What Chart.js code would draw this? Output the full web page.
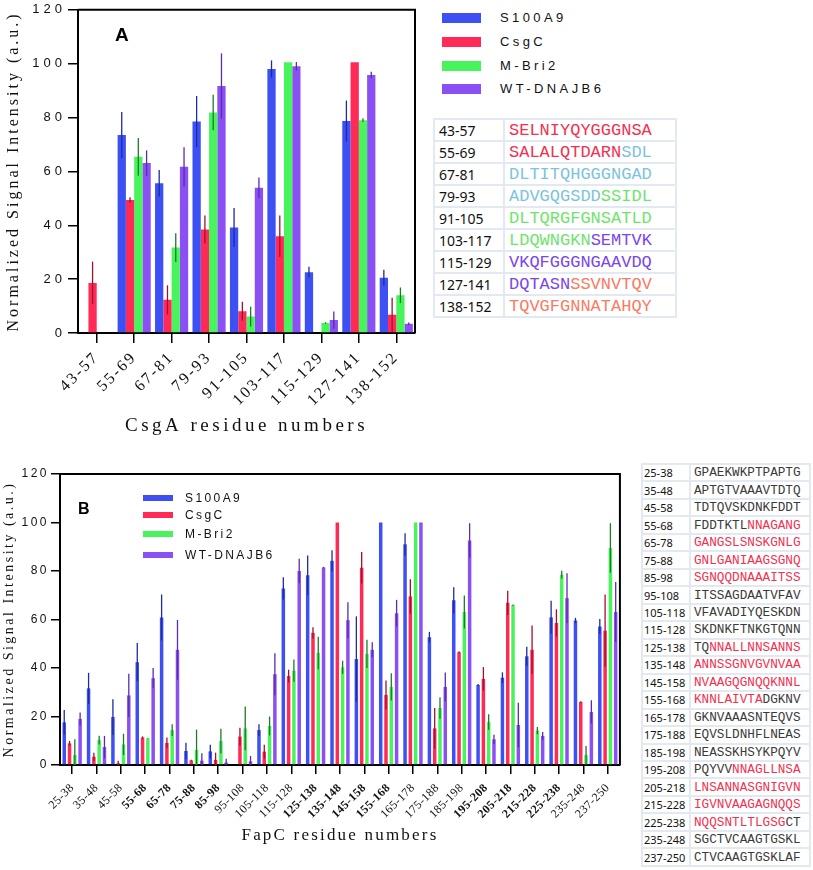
<!DOCTYPE html>
<html>
<head>
<meta charset="utf-8">
<script src="https://cdn.jsdelivr.net/npm/chart.js@4/dist/chart.umd.min.js"></script>
<style>
  body { margin: 0; background: #fff; }
  #page { position: relative; width: 813px; height: 870px; overflow: hidden; }
  canvas { position: absolute; }
  .panel-tag { position: absolute; font: bold 19px "Liberation Sans", Arial, sans-serif; line-height: 19px; color: #000; }
  .legend { position: absolute; font-family: "Liberation Sans", Arial, sans-serif; color: #111; }
  .legend .row { position: absolute; left: 0; white-space: nowrap; }
  .legend .sw { position: absolute; left: 0; }
  .legend .lbl { position: absolute; }
  .seq { position: absolute; border-collapse: collapse; table-layout: fixed; }
  .seq td { border: 2px solid #e2e9f0; padding: 0; white-space: nowrap; overflow: hidden; }
  .seq td.k { font-family: "Noto Sans", sans-serif; color: #111; }
  .seq td.s { font-family: "Liberation Mono", "Courier New", monospace; }
</style>
</head>
<body>
<div id="page">
  <canvas id="chart-a" width="420" height="445" style="left:0;top:0"></canvas>
  <canvas id="chart-b" width="625" height="430" style="left:0;top:440px"></canvas>
  <div class="panel-tag" style="left:115px;top:25px">A</div>
  <div class="panel-tag" style="left:78px;top:501px;font-size:16px;line-height:16px">B</div>
  <div id="legend-a" class="legend" style="left:442px;top:0"></div>
  <div id="legend-b" class="legend" style="left:143px;top:0"></div>
  <table id="table-a" class="seq" style="left:433px;top:118px;width:244px;height:200px"></table>
  <table id="table-b" class="seq" style="left:641px;top:463px;width:170px;height:404px"></table>
</div>
<script>
// Series
const seriesNames = ['S100A9', 'CsgC', 'M-Bri2', 'WT-DNAJB6'];
const seriesColors = ['#3d50f4', '#ff2a55', '#48f45c', '#8b50f3'];
const errorColors = ['#1d2ba0', '#a3102e', '#1f7a2a', '#5a2bb0'];

// Panel A: CsgA peptides
const labelsA = ['43-57', '55-69', '67-81', '79-93', '91-105', '103-117', '115-129', '127-141', '138-152'];
const s100a9A = [0, 73.5, 55.6, 78.5, 39.2, 98.0, 22.6, 78.7, 20.5];
const csgcA = [18.6, 49.4, 12.3, 38.4, 8.1, 35.9, 0, 100.5, 6.8];
const mbri2A = [0, 65.4, 31.7, 81.9, 6.1, 100.5, 3.7, 79.0, 14.0];
const dnajb6A = [0, 63.1, 61.7, 91.7, 53.9, 99.0, 4.8, 95.8, 3.4];
const s100a9ErrA = [0, 8.6, 4.9, 9.5, 7.2, 3.2, 2.0, 7.6, 3.0];
const csgcErrA = [7.9, 1.0, 5.4, 5.2, 3.5, 7.7, 0, 0, 6.3];
const mbri2ErrA = [0, 7.0, 5.3, 6.6, 3.7, 0, 0.3, 0.7, 2.9];
const dnajb6ErrA = [0, 4.7, 7.3, 12.1, 3.8, 1.6, 3.2, 1.2, 0.5];

// Panel B: FapC peptides
const labelsB = ['25-38', '35-48', '45-58', '55-68', '65-78', '75-88', '85-98', '95-108', '105-118', '115-128',
  '125-138', '135-148', '145-158', '155-168', '165-178', '175-188', '185-198', '195-208', '205-218', '215-228',
  '225-238', '235-248', '237-250'];
const boldLabelsB = ['55-68', '65-78', '75-88', '85-98', '125-138', '135-148', '145-158', '155-168',
  '195-208', '205-218', '215-228', '225-238'];
const s100a9B = [17.6, 31.6, 19.8, 42.4, 60.8, 5.8, 5.6, 0, 14.4, 72.8, 78.2, 84.2, 43.7, 100, 91.0, 52.7, 67.9, 33.0, 36.0, 44.8, 60.9, 59.6, 57.1];
const csgcB = [8.9, 3.4, 0.7, 11.3, 9.1, 1.9, 2.1, 11.7, 5.5, 36.7, 54.5, 100, 81.3, 28.9, 69.5, 15.1, 46.5, 35.5, 66.9, 47.5, 58.6, 26.0, 55.4];
const mbri2B = [4.1, 10.3, 8.5, 11.0, 14.4, 6.2, 9.9, 15.1, 16.1, 38.9, 46.2, 40.3, 45.8, 32.2, 100, 23.5, 63.1, 17.7, 65.9, 14.2, 78.5, 4.1, 89.5];
const dnajb6B = [19.0, 7.4, 28.7, 35.8, 47.5, 1.8, 1.0, 1.5, 37.4, 80.0, 81.4, 59.7, 47.5, 62.6, 100, 32.2, 92.6, 10.6, 16.5, 12.0, 68.8, 21.9, 63.1];
const s100a9ErrB = [5.1, 6.4, 7.3, 7.9, 9.5, 3.4, 2.8, 0, 2.4, 4.6, 8.2, 4.4, 17.6, 0, 4.6, 2.2, 5.4, 0.4, 2.2, 4.0, 6.8, 1.1, 3.1];
const csgcErrB = [1.0, 1.7, 1.1, 0.5, 2.2, 0.3, 3.0, 3.7, 2.8, 2.6, 2.3, 0, 6.5, 5.9, 7.1, 8.4, 0.4, 4.9, 5.0, 10.0, 5.6, 0.3, 14.9];
const mbri2ErrB = [6.5, 1.8, 4.4, 0.1, 2.4, 8.4, 5.1, 9.0, 3.9, 4.6, 6.7, 2.7, 5.8, 5.6, 0, 4.4, 6.8, 3.2, 0.3, 1.5, 1.6, 3.7, 10.2];
const dnajb6ErrB = [2.7, 4.6, 8.9, 4.2, 12.3, 3.0, 1.6, 2.2, 8.7, 5.1, 0.3, 7.4, 3.1, 5.5, 0, 5.9, 7.1, 1.9, 9.2, 1.6, 10.3, 4.8, 12.4];

// Sequence tables: [label, [[text, colourKey], ...]]
const seqRowsA = [
  ['43-57', [['SELNIYQYGGGNSA', 'r']]],
  ['55-69', [['SALALQTDARN', 'r'], ['SDL', 'c']]],
  ['67-81', [['DLTITQHGGGNGAD', 'c']]],
  ['79-93', [['ADVGQGSDD', 'c'], ['SSIDL', 'g']]],
  ['91-105', [['DLTQRGFGNSATLD', 'g']]],
  ['103-117', [['LDQWNGKN', 'g'], ['SEMTVK', 'p']]],
  ['115-129', [['VKQFGGGNGAAVDQ', 'p']]],
  ['127-141', [['DQTASN', 'p'], ['SSVNVTQV', 'o']]],
  ['138-152', [['TQVGFGNNATAHQY', 'o']]],
];
const seqRowsB = [
  ['25-38', [['GPAEKWKPTPAPTG', 'k']]],
  ['35-48', [['APTGTVAAAVTDTQ', 'k']]],
  ['45-58', [['TDTQVSKDNKFDDT', 'k']]],
  ['55-68', [['FDDTKTL', 'k'], ['NNAGANG', 'r']]],
  ['65-78', [['GANGSLSNSKGNLG', 'r']]],
  ['75-88', [['GNLGANIAAGSGNQ', 'r']]],
  ['85-98', [['SGNQQDNAAAITSS', 'r']]],
  ['95-108', [['ITSSAGDAATVFAV', 'k']]],
  ['105-118', [['VFAVADIYQESKDN', 'k']]],
  ['115-128', [['SKDNKFTNKGTQNN', 'k']]],
  ['125-138', [['TQ', 'k'], ['NNALLNNSANNS', 'r']]],
  ['135-148', [['ANNSSGNVGVNVAA', 'r']]],
  ['145-158', [['NVAAGQGNQQKNNL', 'r']]],
  ['155-168', [['KNNLAIVTA', 'r'], ['DGKNV', 'k']]],
  ['165-178', [['GKNVAAASNTEQVS', 'k']]],
  ['175-188', [['EQVSLDNHFLNEAS', 'k']]],
  ['185-198', [['NEASSKHSYKPQYV', 'k']]],
  ['195-208', [['PQYVV', 'k'], ['NNAGLLNSA', 'r']]],
  ['205-218', [['LNSANNASGNIGVN', 'r']]],
  ['215-228', [['IGVNVAAGAGNQQS', 'r']]],
  ['225-238', [['NQQSNTLTLGSG', 'r'], ['CT', 'k']]],
  ['235-248', [['SGCTVCAAGTGSKL', 'k']]],
  ['237-250', [['CTVCAAGTGSKLAF', 'k']]],
];
const seqColors = { r: '#f4304f', c: '#7cc3dc', g: '#6ee46c', p: '#7a45ee', o: '#fa7a64', k: '#3a3a3a' };

// Error bars drawn through the bar centres
const errorBars = {
  id: 'errorBars',
  afterDatasetsDraw(chart) {
    const { ctx } = chart;
    const y = chart.scales.y;
    chart.data.datasets.forEach((ds, i) => {
      chart.getDatasetMeta(i).data.forEach((bar, j) => {
        const v = ds.data[j], e = ds.errors[j];
        if (!v || !e) return;
        ctx.save();
        ctx.strokeStyle = ds.errorColor;
        ctx.lineWidth = 1.3;
        ctx.beginPath();
        ctx.moveTo(bar.x, y.getPixelForValue(v + e));
        ctx.lineTo(bar.x, y.getPixelForValue(Math.max(0, v - e)));
        ctx.stroke();
        ctx.restore();
      });
    });
  }
};

// Top and right edges of the plot box
const plotFrame = {
  id: 'plotFrame',
  afterDraw(chart) {
    const { ctx, chartArea: a } = chart;
    ctx.save();
    ctx.strokeStyle = '#000';
    ctx.lineWidth = 2;
    ctx.beginPath();
    ctx.moveTo(a.left, a.top);
    ctx.lineTo(a.right, a.top);
    ctx.lineTo(a.right, a.bottom);
    ctx.stroke();
    ctx.restore();
  }
};

// Spaced-out lettering on axis labels and titles
const letterSpacing = {
  id: 'letterSpacing',
  afterLayout(chart, args, opts) {
    Object.entries(opts).forEach(([id, gaps]) => {
      const scale = chart.scales[id];
      if (!scale || scale._spaced) return;
      ['drawLabels', 'drawTitle'].forEach((name, k) => {
        const orig = scale[name];
        scale[name] = function (...a) {
          this.ctx.save();
          this.ctx.letterSpacing = gaps[k] + 'px';
          orig.apply(this, a);
          this.ctx.restore();
        };
      });
      scale._spaced = true;
    });
  }
};

const makeDatasets = (values, errors, barOpts) => values.map((data, i) => ({
  label: seriesNames[i],
  data,
  errors: errors[i],
  errorColor: errorColors[i],
  backgroundColor: seriesColors[i],
  borderWidth: 0,
  ...barOpts,
}));

const buildChart = (id, cfg) => new Chart(document.getElementById(id), {
  type: 'bar',
  data: {
    labels: cfg.labels,
    datasets: makeDatasets(cfg.values, cfg.errors, cfg.bar),
  },
  options: {
    responsive: false,
    animation: false,
    events: [],
    layout: { padding: cfg.padding },
    plugins: {
      legend: { display: false },
      tooltip: { enabled: false },
      letterSpacing: cfg.spacing,
    },
    scales: {
      x: {
        afterFit: (s) => { s.height = cfg.xHeight; },
        grid: { display: true, drawOnChartArea: false, offset: false, tickLength: cfg.tickLength, color: '#000', lineWidth: 1.5 },
        border: { color: '#000', width: 2 },
        ticks: { autoSkip: false, minRotation: 45, maxRotation: 45, padding: cfg.xPad, color: '#111', font: cfg.xFont },
        title: { display: true, text: cfg.xTitle, color: '#111', padding: { top: 0, bottom: cfg.xTitlePad },
          font: { family: 'Liberation Serif', size: cfg.xTitleSize } },
      },
      y: {
        min: 0,
        max: 120,
        afterFit: (s) => { s.width = cfg.yWidth; },
        grid: { display: true, drawOnChartArea: false, tickLength: cfg.tickLength, color: '#000', lineWidth: 1.5 },
        border: { color: '#000', width: 2 },
        ticks: { stepSize: 20, padding: 2, color: '#111', font: { family: 'Liberation Sans', size: cfg.yTickSize } },
        title: { display: true, text: 'Normalized Signal Intensity (a.u.)', color: '#111', padding: { top: cfg.yTitlePad, bottom: 0 },
          font: { family: 'Liberation Serif', size: cfg.yTitleSize } },
      },
    },
  },
  plugins: [errorBars, plotFrame, letterSpacing],
});

buildChart('chart-a', {
  labels: labelsA,
  values: [s100a9A, csgcA, mbri2A, dnajb6A],
  errors: [s100a9ErrA, csgcErrA, mbri2ErrA, dnajb6ErrA],
  bar: { categoryPercentage: 0.885, barPercentage: 1.0 },
  padding: { top: 6, right: 5, left: 0, bottom: 0 },
  spacing: { x: [2.2, 3.5], y: [4, 3] },
  xHeight: 112, yWidth: 78, tickLength: 10, xPad: 5,
  xFont: { family: 'Liberation Serif', size: 16 },
  xTitle: 'CsgA residue numbers', xTitleSize: 19, xTitlePad: 8,
  yTickSize: 13, yTitleSize: 16, yTitlePad: 4,
});

buildChart('chart-b', {
  labels: labelsB,
  values: [s100a9B, csgcB, mbri2B, dnajb6B],
  errors: [s100a9ErrB, csgcErrB, mbri2ErrB, dnajb6ErrB],
  bar: { categoryPercentage: 0.87, barPercentage: 0.66 },
  padding: { top: 34, right: 3, left: 0, bottom: 0 },
  spacing: { x: [0.4, 2.2], y: [2.5, 2.5] },
  xHeight: 105, yWidth: 60, tickLength: 9, xPad: 7,
  xFont: (c) => ({ family: 'Liberation Serif', size: 12, weight: boldLabelsB.includes(labelsB[c.index]) ? 'bold' : 'normal' }),
  xTitle: 'FapC residue numbers', xTitleSize: 17, xTitlePad: 24,
  yTickSize: 12, yTitleSize: 14, yTitlePad: 1,
});

// HTML legends
const drawLegend = (id, rowsY, sw, font, gap, textLeft) => {
  const box = document.getElementById(id);
  seriesNames.forEach((name, i) => {
    const row = document.createElement('div');
    row.className = 'row';
    row.style.top = rowsY[i] + 'px';
    row.innerHTML = `<div class="sw" style="top:${-sw.h / 2}px;width:${sw.w}px;height:${sw.h}px;background:${seriesColors[i]}"></div>
      <div class="lbl" style="left:${textLeft}px;top:${-font}px;line-height:${font * 2}px;font-size:${font}px;letter-spacing:${gap}px">${name}</div>`;
    box.appendChild(row);
  });
};
drawLegend('legend-a', [18, 42, 66, 89], { w: 39, h: 10 }, 13, 3.4, 58);
drawLegend('legend-b', [498, 515, 534, 555], { w: 30, h: 6 }, 12, 2.4, 42);

// Sequence tables
const drawTable = (id, rows, cfg) => {
  const t = document.getElementById(id);
  t.innerHTML = `<colgroup><col style="width:${cfg.keyW}px"><col></colgroup>` + rows.map(([k, parts]) =>
    `<tr><td class="k" style="font-size:${cfg.keySize}px;padding-left:${cfg.keyPad}px">${k}</td>` +
    `<td class="s" style="font-size:${cfg.seqSize}px;padding-left:${cfg.seqPad}px">` +
    parts.map(([txt, c]) => `<span style="color:${seqColors[c]}">${txt}</span>`).join('') + '</td></tr>'
  ).join('');
};
drawTable('table-a', seqRowsA, { keyW: 70, keySize: 14, keyPad: 4, seqSize: 17, seqPad: 4 });
drawTable('table-b', seqRowsB, { keyW: 48, keySize: 11, keyPad: 1, seqSize: 12.7, seqPad: 3 });
</script>
</body>
</html>
